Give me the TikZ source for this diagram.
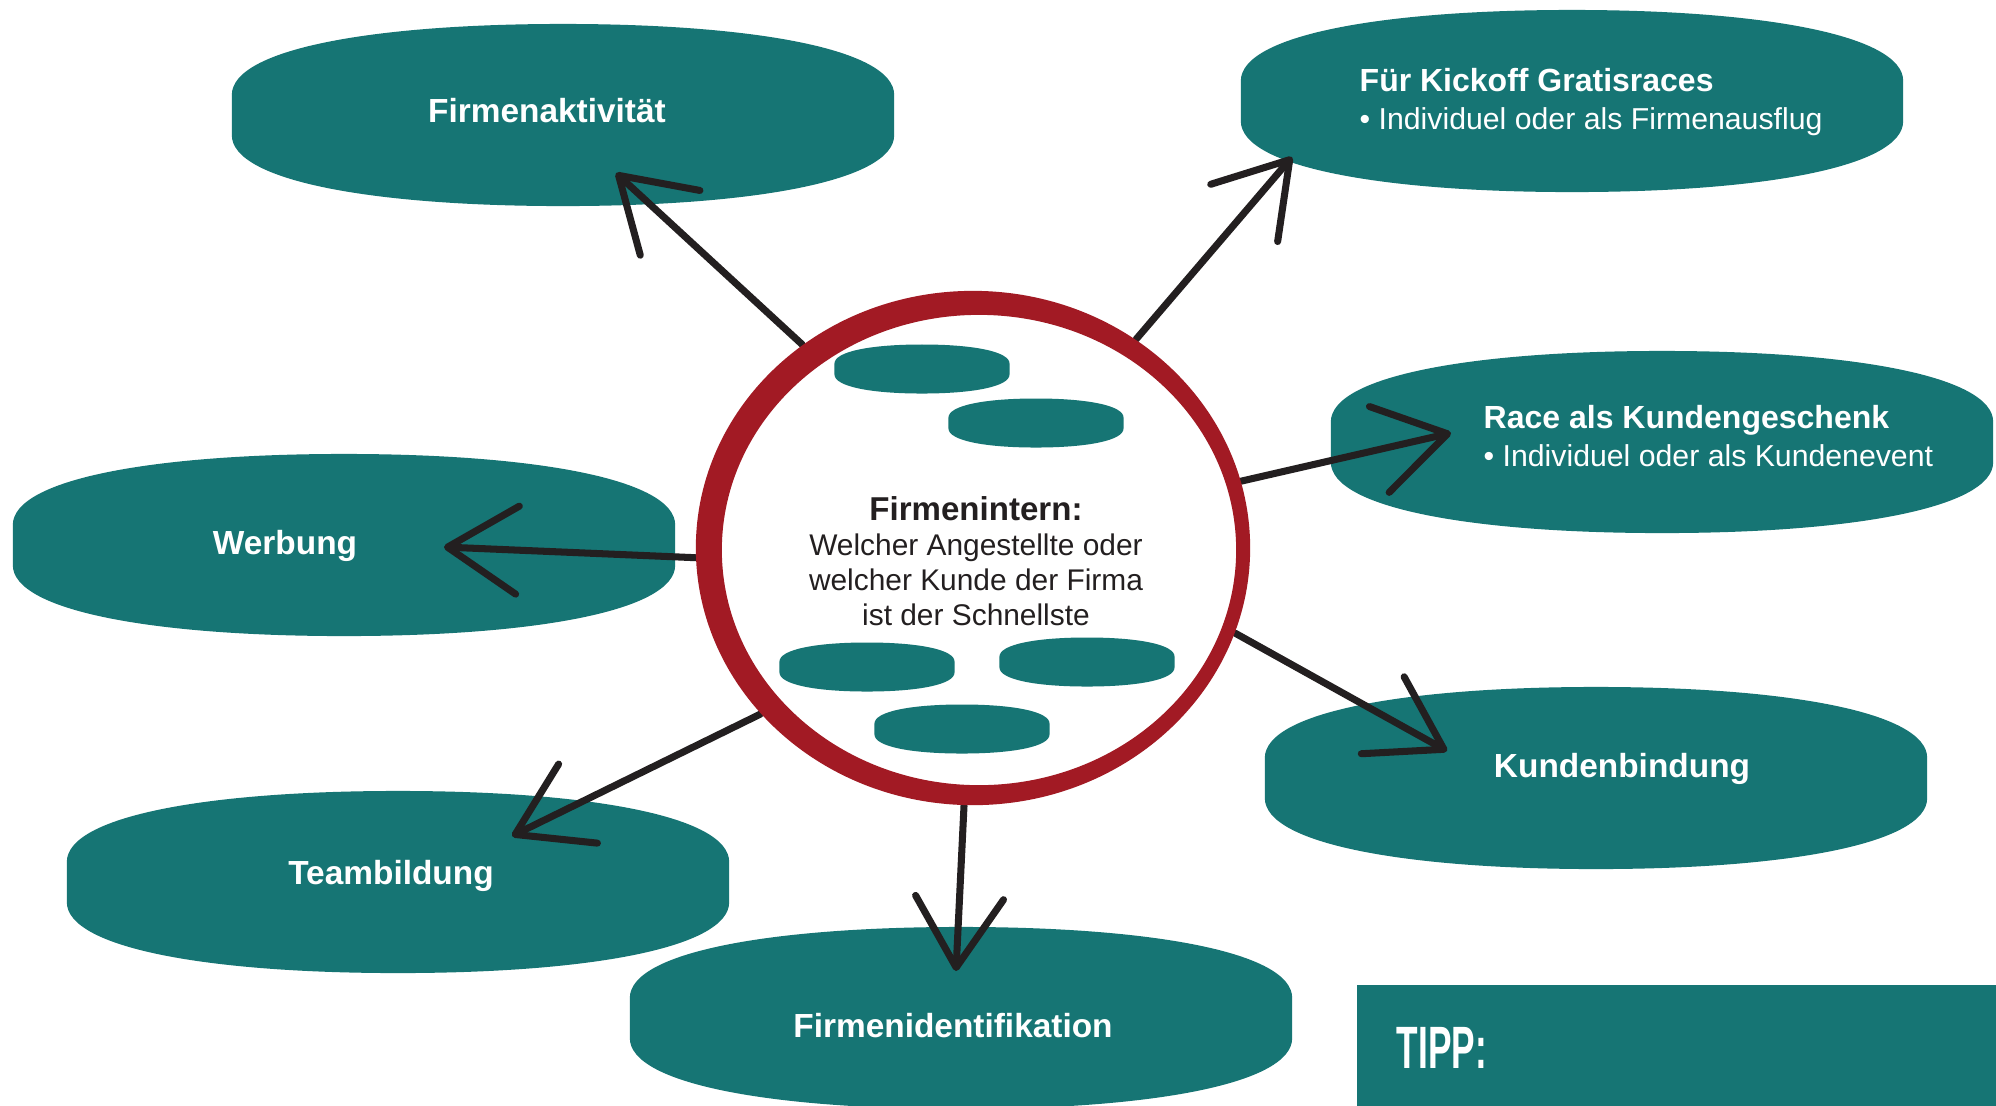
\documentclass[tikz,border=0pt]{standalone}
\usepackage{fontspec}
\setmainfont{Liberation Sans}
\usetikzlibrary{arrows.meta,shapes.geometric}
\definecolor{tealc}{HTML}{167574}
\definecolor{ringred}{HTML}{A21A24}
\definecolor{inkc}{HTML}{231F20}
\pgfdeclarelayer{back}
\pgfsetlayers{back,main}
\tikzset{
  blob/.style 2 args={rectangle, inner sep=0pt, minimum width=2*#1, minimum height=2*#2,
    path picture={\fill[tealc, shift={(path picture bounding box.center)}, x=#1, y=#2]
      (-1,-0.22) -- (-1,0.22) .. controls (-1,0.72) and (-0.58,1) .. (0,1)
      .. controls (0.58,1) and (1,0.72) .. (1,0.22) -- (1,-0.22)
      .. controls (1,-0.72) and (0.58,-1) .. (0,-1)
      .. controls (-0.58,-1) and (-1,-0.72) .. (-1,-0.22) -- cycle;}},
  bigblob/.style={blob={3.31cm}{0.91cm}},
  miniblob/.style={blob={0.875cm}{0.245cm}},
  headtxt/.style={text=white, inner sep=0pt, font=\fontsize{9.5}{11}\selectfont\bfseries},
  twoline/.style={text=white, inner sep=0pt, align=left, font=\fontsize{9.1}{10.6}\selectfont},
  conn/.style={draw=inkc, line width=2pt, line cap=round,
    -{Straight Barb[length=7mm,width=8.8mm,round]}},
}
\begin{document}
\begin{tikzpicture}[x=0.01cm,y=-0.01cm]
\useasboundingbox (0,0) rectangle (1996,1105);

% central ring (node gives the anchors, the fill gives the brush stroke)
\node[ellipse, inner sep=0pt, minimum width=5.54cm, minimum height=5.14cm] (ring) at (973,548) {};
\fill[ringred, even odd rule] (ring.center) ellipse [x radius=2.77cm, y radius=2.57cm]
  (979,550) ellipse [x radius=2.57cm, y radius=2.35cm];

\begin{pgfonlayer}{back}
\fill[white] (0,0) rectangle (1996,1105);
% outer blobs
\node[bigblob] (b1) at (563,115) {};
\node[bigblob] (b2) at (1572,101) {};
\node[bigblob] (b3) at (1662,442) {};
\node[bigblob] (b4) at (344,545) {};
\node[bigblob] (b5) at (1596,778) {};
\node[bigblob] (b6) at (398,882) {};
\node[bigblob] (b7) at (961,1018) {};

% tips
\coordinate (p1) at (616,173);
\coordinate (p2) at (1292,157);
\coordinate (p3) at (1451,433);
\coordinate (p4) at (444,547);
\coordinate (p5) at (1447,751);
\coordinate (p6) at (512,836);
\coordinate (p7) at (956,971);

\draw[conn] (ring.130.4) -- (p1);
\draw[conn] (ring.52.6) -- (p2);
\draw[conn] (ring.14.8) -- (p3);
\draw[conn] (ring.182.3) -- (p4);
\draw[conn] (ring.342.9) -- (p5);
\draw[conn] (ring.218.6) -- (p6);
\draw[conn] (ring.268.6) -- (p7);
\end{pgfonlayer}

% mini blobs inside ring
\node[miniblob] (m1) at (922,369) {};
\node[miniblob] (m2) at (1036,423) {};
\node[miniblob] (m3) at (867,667) {};
\node[miniblob] (m4) at (1087,662) {};
\node[miniblob] (m5) at (962,729) {};

% texts
\node[headtxt] (t1) at (547,111) {Firmenaktivität};
\node[twoline, anchor=west] (t2) at (1359,102)
  {\textbf{Für Kickoff Gratisraces}\\{\fontsize{8.6}{10.6}\selectfont • Individuel oder als Firmenausflug}};
\node[twoline, anchor=west] (t3) at (1483,436)
  {\textbf{Race als Kundengeschenk}\\{\fontsize{8.6}{10.6}\selectfont • Individuel oder als Kundenevent}};
\node[headtxt] (t4) at (285,546) {Werbung};
\node[headtxt] (t5) at (1622,769) {Kundenbindung};
\node[headtxt] (t6) at (391,876) {Teambildung};
\node[headtxt] (t7) at (953,1026) {Firmenidentifikation};

\node[text=inkc, align=center, inner sep=0pt, font=\fontsize{8.5}{10}\selectfont] (ct) at (976,561)
  {{\fontsize{9.4}{10}\selectfont\bfseries Firmenintern:}\\Welcher Angestellte oder\\welcher Kunde der Firma\\ist der Schnellste};

% TIPP box
\node[fill=tealc, rectangle, inner sep=0pt, anchor=north west,
      minimum width=6.4cm, minimum height=1.25cm] (tipp) at (1356,984) {};
\node[text=white, inner sep=0pt, anchor=west, font=\fontsize{17}{17}\selectfont\bfseries] (tippt) at (1396,1048)
  {\scalebox{0.59}[1]{TIPP:}};
\end{tikzpicture}
\end{document}
